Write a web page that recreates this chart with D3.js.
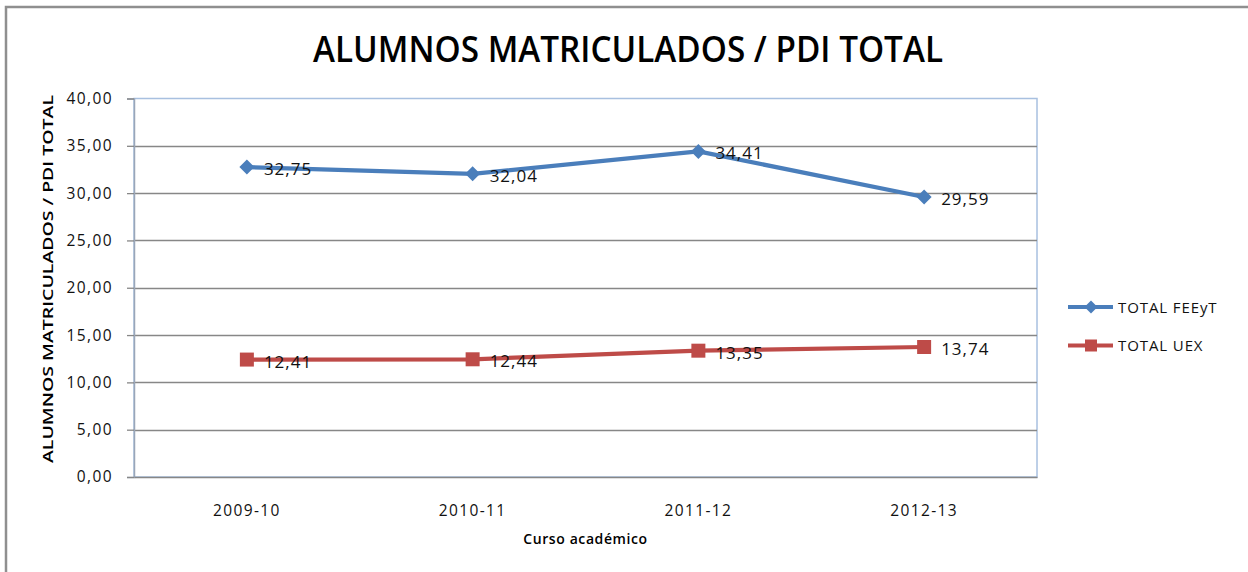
<!DOCTYPE html>
<html>
<head>
<meta charset="utf-8">
<script src="https://cdn.jsdelivr.net/npm/d3@7"></script>
<style>
    body { margin: 0; background: #fff; }
    svg { display: block; font-family: 'Open Sans', sans-serif; }
</style>
</head>
<body>
<svg id="chart" width="1248" height="572"></svg>
<script>
// Data
const categories = ['2009-10', '2010-11', '2011-12', '2012-13'];
const totalFEEyT = [32.75, 32.04, 34.41, 29.59];
const totalUEX = [12.41, 12.44, 13.35, 13.74];
const yTicks = [0, 5, 10, 15, 20, 25, 30, 35, 40];

const seriesList = [
    { name: 'TOTAL FEEyT', values: totalFEEyT, color: '#4a7ebb', marker: 'diamond' },
    { name: 'TOTAL UEX', values: totalUEX, color: '#be4b48', marker: 'square' },
];

const fmt = (v) => d3.format('.2f')(v).replace('.', ',');

const svg = d3.select('#chart');
const plot = { left: 134, right: 1037, top: 98.5, bottom: 477 };

// outer frame of the chart
svg.append('rect')
    .attr('x', 6).attr('y', 7)
    .attr('width', 1280).attr('height', 620)
    .attr('fill', 'none')
    .attr('stroke', '#8f8f8f')
    .attr('stroke-width', 2.5);

// title
svg.append('text')
    .attr('x', 628).attr('y', 62)
    .attr('text-anchor', 'middle')
    .attr('font-size', 36)
    .attr('font-weight', 600)
    .attr('textLength', 630)
    .attr('lengthAdjust', 'spacingAndGlyphs')
    .attr('fill', '#000')
    .text('ALUMNOS MATRICULADOS / PDI TOTAL');

const x = d3.scaleBand().domain(categories).range([plot.left, plot.right]);
const y = d3.scaleLinear().domain([0, 40]).range([plot.bottom, plot.top]);

// plot area border (light blue)
svg.append('rect')
    .attr('x', plot.left).attr('y', plot.top)
    .attr('width', plot.right - plot.left).attr('height', plot.bottom - plot.top)
    .attr('fill', 'none')
    .attr('stroke', '#a8c0e0')
    .attr('stroke-width', 1.5);

// gridlines
svg.append('g')
    .selectAll('line')
    .data(yTicks.filter((t) => t > 0 && t < 40))
    .join('line')
    .attr('x1', plot.left).attr('x2', plot.right)
    .attr('y1', (d) => Math.round(y(d)) + 0.5).attr('y2', (d) => Math.round(y(d)) + 0.5)
    .attr('stroke', '#878787')
    .attr('stroke-width', 1.3);

// y axis
const yAxis = svg.append('g')
    .attr('transform', `translate(${plot.left},0)`)
    .call(d3.axisLeft(y).tickValues(yTicks).tickFormat(fmt).tickSize(7).tickPadding(14));
yAxis.select('.domain').attr('stroke', '#9aa6b8').attr('stroke-width', 1.5);
yAxis.selectAll('.tick line').attr('stroke', '#878787').attr('stroke-width', 1.3);
yAxis.selectAll('.tick text')
    .attr('font-size', 15.5)
    .attr('letter-spacing', 1.4)
    .attr('fill', '#111')
    .attr('font-family', "'Open Sans', sans-serif");

// x axis
const xAxis = svg.append('g')
    .attr('transform', `translate(0,${plot.bottom})`)
    .call(d3.axisBottom(x).tickSize(0).tickPadding(28));
xAxis.select('.domain').attr('stroke', '#878787').attr('stroke-width', 1.5);
xAxis.selectAll('.tick text')
    .attr('font-size', 15.5)
    .attr('letter-spacing', 1.4)
    .attr('fill', '#111')
    .attr('font-family', "'Open Sans', sans-serif");

// axis titles
svg.append('text')
    .attr('transform', 'translate(53,279) rotate(-90)')
    .attr('text-anchor', 'middle')
    .attr('font-size', 14)
    .attr('font-weight', 600)
    .attr('textLength', 368)
    .attr('lengthAdjust', 'spacingAndGlyphs')
    .text('ALUMNOS MATRICULADOS  / PDI TOTAL');

svg.append('text')
    .attr('x', (plot.left + plot.right) / 2).attr('y', 544)
    .attr('text-anchor', 'middle')
    .attr('font-size', 14)
    .attr('font-weight', 600)
    .attr('letter-spacing', 0.6)
    .text('Curso académico');

// diamond = square turned 45deg (Excel style), square as is
const markerPath = (type, half) =>
    type === 'diamond'
        ? `M0,${-half}L${half},0L0,${half}L${-half},0Z`
        : `M${-half},${-half}H${half}V${half}H${-half}Z`;

const line = d3.line()
    .x((d, i) => x(categories[i]) + x.bandwidth() / 2)
    .y((d) => y(d));

seriesList.forEach((s) => {
    const g = svg.append('g');
    g.append('path')
        .attr('d', line(s.values))
        .attr('fill', 'none')
        .attr('stroke', s.color)
        .attr('stroke-width', 4.2)
        .attr('stroke-linejoin', 'round');

    g.selectAll('.pt')
        .data(s.values)
        .join('path')
        .attr('class', 'pt')
        .attr('transform', (d, i) => `translate(${x(categories[i]) + x.bandwidth() / 2},${y(d)})`)
        .attr('d', markerPath(s.marker, s.marker === 'diamond' ? 7.5 : 7))
        .attr('fill', s.color);

    g.selectAll('.lbl')
        .data(s.values)
        .join('text')
        .attr('class', 'lbl')
        .attr('x', (d, i) => x(categories[i]) + x.bandwidth() / 2 + 17)
        .attr('y', (d) => y(d) + 8)
        .attr('font-size', 17)
        .attr('letter-spacing', 1)
        .attr('fill', '#111')
        .text(fmt);
});

// legend
const legend = svg.append('g')
    .selectAll('g')
    .data(seriesList)
    .join('g')
    .attr('transform', (d, i) => `translate(1068,${307 + i * 38.5})`);

legend.append('line')
    .attr('x1', 0).attr('x2', 45)
    .attr('stroke', (d) => d.color)
    .attr('stroke-width', 4.2);

legend.append('path')
    .attr('transform', 'translate(23,0)')
    .attr('d', (d) => markerPath(d.marker, d.marker === 'diamond' ? 6.5 : 6))
    .attr('fill', (d) => d.color);

legend.append('text')
    .attr('x', 50).attr('y', 5.5)
    .attr('font-size', 15)
    .attr('letter-spacing', 0.9)
    .attr('fill', '#111')
    .text((d) => d.name);
</script>
</body>
</html>
